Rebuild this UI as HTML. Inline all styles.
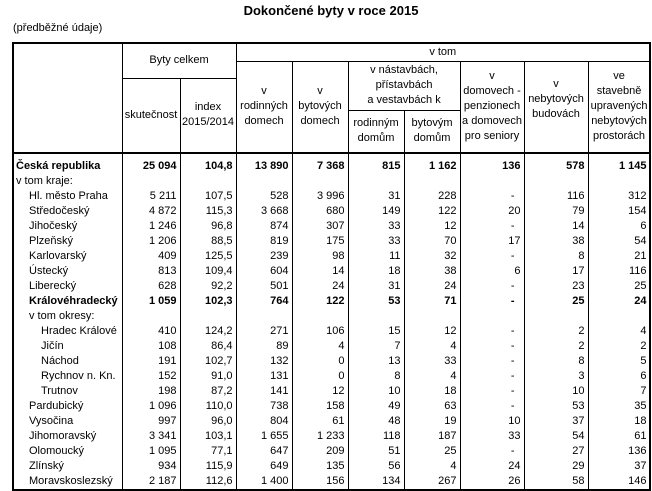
<!DOCTYPE html>
<html><head><meta charset="utf-8"><style>
body{margin:0;width:652px;height:488px;background:#fff;font-family:"Liberation Sans",Arial,sans-serif;font-size:11px;color:#000;position:relative;overflow:hidden}
.t{position:absolute;left:0;width:662px;text-align:center;top:3px;font-weight:bold;font-size:13px}
.s{position:absolute;left:13px;top:22px;font-size:11px}
table{position:absolute;left:12px;top:42px;border-collapse:collapse;table-layout:fixed;width:637px;border:2px solid #000}
td{padding:0 3px;line-height:15px;white-space:nowrap;overflow:hidden}
thead td{border:1px solid #000;text-align:center;vertical-align:middle;line-height:15px;padding:0}
thead tr.l td, thead td.lx, thead td.bb{border-bottom:2px solid #000}
tbody td{border-left:1px solid #000;border-right:1px solid #000;text-align:right;height:15px;padding:0 3px 0 0;vertical-align:middle}
tbody td:first-child{text-align:left;padding-left:2px}
tbody tr.b td{font-weight:bold}
tbody tr.f td{height:20px;vertical-align:bottom;line-height:16px}
.i1{padding-left:15px!important}.i2{padding-left:27px!important}
.d{margin-right:6px}
</style></head><body>
<div class="t">Dokončené byty v roce 2015</div>
<div class="s">(předběžné údaje)</div>
<table>
<colgroup><col style="width:109px"><col style="width:58px"><col style="width:56px"><col style="width:56px"><col style="width:56px"><col style="width:56px"><col style="width:56px"><col style="width:64px"><col style="width:64px"><col style="width:62px"></colgroup>
<thead>
<tr style="height:18px"><td rowspan="4" class="lx"></td><td colspan="2" rowspan="2">Byty celkem</td><td colspan="8">v tom</td></tr>
<tr style="height:17px"><td rowspan="3" class="bb">v<br>rodinných<br>domech</td><td rowspan="3" class="bb">v<br>bytových<br>domech</td><td colspan="2" rowspan="2">v nástavbách,<br>přístavbách<br>a vestavbách k</td><td rowspan="3" class="bb">v<br>domovech -<br>penzionech<br>a domovech<br>pro seniory</td><td rowspan="3" class="bb">v<br>nebytových<br>budovách<br><br></td><td rowspan="3" class="bb">ve<br>stavebně<br>upravených<br>nebytových<br>prostorách</td></tr>
<tr style="height:32px"><td rowspan="2" class="bb">skutečnost</td><td rowspan="2" class="bb">index<br>2015/2014</td></tr>
<tr style="height:43px" class="l"><td>rodinným<br>domům</td><td>bytovým<br>domům</td></tr>
</thead>
<tbody>
<tr class="b f"><td>Česká republika</td><td>25 094</td><td>104,8</td><td>13 890</td><td>7 368</td><td>815</td><td>1 162</td><td>136</td><td>578</td><td>1 145</td></tr>
<tr><td>v tom kraje:</td><td></td><td></td><td></td><td></td><td></td><td></td><td></td><td></td><td></td></tr>
<tr><td class="i1">Hl. město Praha</td><td>5 211</td><td>107,5</td><td>528</td><td>3 996</td><td>31</td><td>228</td><td><span class="d">-</span></td><td>116</td><td>312</td></tr>
<tr><td class="i1">Středočeský</td><td>4 872</td><td>115,3</td><td>3 668</td><td>680</td><td>149</td><td>122</td><td>20</td><td>79</td><td>154</td></tr>
<tr><td class="i1">Jihočeský</td><td>1 246</td><td>96,8</td><td>874</td><td>307</td><td>33</td><td>12</td><td><span class="d">-</span></td><td>14</td><td>6</td></tr>
<tr><td class="i1">Plzeňský</td><td>1 206</td><td>88,5</td><td>819</td><td>175</td><td>33</td><td>70</td><td>17</td><td>38</td><td>54</td></tr>
<tr><td class="i1">Karlovarský</td><td>409</td><td>125,5</td><td>239</td><td>98</td><td>11</td><td>32</td><td><span class="d">-</span></td><td>8</td><td>21</td></tr>
<tr><td class="i1">Ústecký</td><td>813</td><td>109,4</td><td>604</td><td>14</td><td>18</td><td>38</td><td>6</td><td>17</td><td>116</td></tr>
<tr><td class="i1">Liberecký</td><td>628</td><td>92,2</td><td>501</td><td>24</td><td>31</td><td>24</td><td><span class="d">-</span></td><td>23</td><td>25</td></tr>
<tr class="b"><td class="i1">Královéhradecký</td><td>1 059</td><td>102,3</td><td>764</td><td>122</td><td>53</td><td>71</td><td><span class="d">-</span></td><td>25</td><td>24</td></tr>
<tr><td class="i1">v tom okresy:</td><td></td><td></td><td></td><td></td><td></td><td></td><td></td><td></td><td></td></tr>
<tr><td class="i2">Hradec Králové</td><td>410</td><td>124,2</td><td>271</td><td>106</td><td>15</td><td>12</td><td><span class="d">-</span></td><td>2</td><td>4</td></tr>
<tr><td class="i2">Jičín</td><td>108</td><td>86,4</td><td>89</td><td>4</td><td>7</td><td>4</td><td><span class="d">-</span></td><td>2</td><td>2</td></tr>
<tr><td class="i2">Náchod</td><td>191</td><td>102,7</td><td>132</td><td>0</td><td>13</td><td>33</td><td><span class="d">-</span></td><td>8</td><td>5</td></tr>
<tr><td class="i2">Rychnov n. Kn.</td><td>152</td><td>91,0</td><td>131</td><td>0</td><td>8</td><td>4</td><td><span class="d">-</span></td><td>3</td><td>6</td></tr>
<tr><td class="i2">Trutnov</td><td>198</td><td>87,2</td><td>141</td><td>12</td><td>10</td><td>18</td><td><span class="d">-</span></td><td>10</td><td>7</td></tr>
<tr><td class="i1">Pardubický</td><td>1 096</td><td>110,0</td><td>738</td><td>158</td><td>49</td><td>63</td><td><span class="d">-</span></td><td>53</td><td>35</td></tr>
<tr><td class="i1">Vysočina</td><td>997</td><td>96,0</td><td>804</td><td>61</td><td>48</td><td>19</td><td>10</td><td>37</td><td>18</td></tr>
<tr><td class="i1">Jihomoravský</td><td>3 341</td><td>103,1</td><td>1 655</td><td>1 233</td><td>118</td><td>187</td><td>33</td><td>54</td><td>61</td></tr>
<tr><td class="i1">Olomoucký</td><td>1 095</td><td>77,1</td><td>647</td><td>209</td><td>51</td><td>25</td><td><span class="d">-</span></td><td>27</td><td>136</td></tr>
<tr><td class="i1">Zlínský</td><td>934</td><td>115,9</td><td>649</td><td>135</td><td>56</td><td>4</td><td>24</td><td>29</td><td>37</td></tr>
<tr><td class="i1">Moravskoslezský</td><td>2 187</td><td>112,6</td><td>1 400</td><td>156</td><td>134</td><td>267</td><td>26</td><td>58</td><td>146</td></tr>
</tbody>
</table>
</body></html>
